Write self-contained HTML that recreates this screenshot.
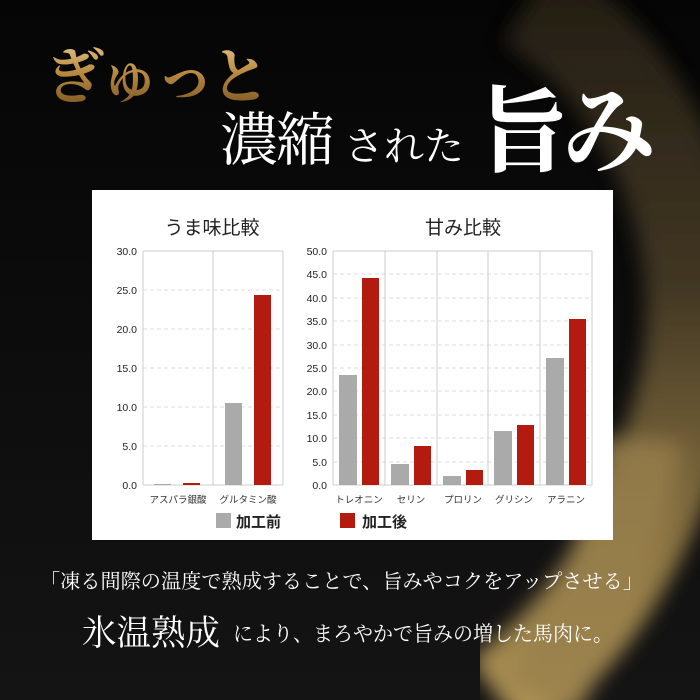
<!DOCTYPE html>
<html><head><meta charset="utf-8"><style>
html,body{margin:0;padding:0;background:#000;}
svg{display:block}
</style></head><body>
<svg width="700" height="700" viewBox="0 0 700 700" xmlns="http://www.w3.org/2000/svg">
<defs>
<linearGradient id="bg" x1="0" y1="0" x2="0" y2="1"><stop offset="0" stop-color="#050505"/><stop offset="1" stop-color="#141414"/></linearGradient>
<linearGradient id="gold" x1="0" y1="0" x2="0" y2="1"><stop offset="0" stop-color="#2a2418"/><stop offset="0.4" stop-color="#4a3e28"/><stop offset="0.75" stop-color="#9a8048"/><stop offset="1" stop-color="#c9a860"/></linearGradient>
<linearGradient id="gtxt" x1="0" y1="0" x2="0" y2="1"><stop offset="0" stop-color="#f3d9a0"/><stop offset="0.5" stop-color="#b8893f"/><stop offset="1" stop-color="#6e4c1c"/></linearGradient>
<filter id="bl"><feGaussianBlur stdDeviation="10"/></filter>
</defs>
<rect width="700" height="700" fill="url(#bg)"/>
<g filter="url(#bl)" opacity="0.85">
<path d="M530 0 C660 80 730 260 680 420 C640 560 580 640 500 700" stroke="url(#gold)" stroke-width="100" fill="none"/>
<path d="M640 440 C630 540 580 630 540 700" stroke="#b09458" stroke-width="80" fill="none" opacity="0.8"/>
</g>
<text x="45" y="98" font-family="'Noto Serif CJK JP','Noto Serif CJK SC',serif" font-size="60" font-weight="bold" fill="url(#gtxt)" letter-spacing="-5">ぎゅっと</text>
<g font-family="'Noto Serif CJK JP','Noto Serif CJK SC',serif" fill="#fff">
<text x="220" y="160" font-size="58" letter-spacing="-2">濃縮</text>
<text x="344" y="160" font-size="40">された</text>
<text x="476" y="164" font-size="94" font-weight="bold" letter-spacing="-8">旨み</text>
</g>
<rect x="92" y="190" width="521" height="350" fill="#fff"/>
<g font-family="'Liberation Sans','Noto Sans CJK JP',sans-serif">
<text x="212" y="234" font-size="19" text-anchor="middle" fill="#222">うま味比較</text>
<text x="463" y="234" font-size="19" text-anchor="middle" fill="#222">甘み比較</text>
<g stroke="#ddd" stroke-dasharray="4,3">
<line x1="143" y1="290" x2="283" y2="290"/><line x1="143" y1="329" x2="283" y2="329"/><line x1="143" y1="368" x2="283" y2="368"/><line x1="143" y1="407" x2="283" y2="407"/><line x1="143" y1="446" x2="283" y2="446"/>
</g>
<g stroke="#ccc"><line x1="143" y1="251" x2="283" y2="251"/><line x1="143" y1="251" x2="143" y2="485"/><line x1="283" y1="251" x2="283" y2="485"/><line x1="213" y1="251" x2="213" y2="485"/><line x1="143" y1="485" x2="283" y2="485"/></g>
<g font-size="10.5" fill="#222" text-anchor="end">
<text x="137" y="255">30.0</text><text x="137" y="294">25.0</text><text x="137" y="333">20.0</text><text x="137" y="372">15.0</text><text x="137" y="411">10.0</text><text x="137" y="450">5.0</text><text x="137" y="489">0.0</text>
</g>
<rect x="154" y="484" width="17" height="1" fill="#aaa"/>
<rect x="183" y="483" width="17" height="2" fill="#b31b10"/>
<rect x="225" y="403" width="17" height="82" fill="#aaa"/>
<rect x="254" y="295" width="17" height="190" fill="#b31b10"/>
<g font-size="9.5" fill="#333" text-anchor="middle"><text x="178" y="503">アスパラ銀酸</text><text x="248" y="503">グルタミン酸</text></g>
<g stroke="#ddd" stroke-dasharray="4,3">
<line x1="333" y1="274" x2="592" y2="274"/><line x1="333" y1="298" x2="592" y2="298"/><line x1="333" y1="321" x2="592" y2="321"/><line x1="333" y1="345" x2="592" y2="345"/><line x1="333" y1="368" x2="592" y2="368"/><line x1="333" y1="391" x2="592" y2="391"/><line x1="333" y1="415" x2="592" y2="415"/><line x1="333" y1="438" x2="592" y2="438"/><line x1="333" y1="462" x2="592" y2="462"/>
</g>
<g stroke="#ccc"><line x1="333" y1="251" x2="592" y2="251"/><line x1="333" y1="251" x2="333" y2="485"/><line x1="592" y1="251" x2="592" y2="485"/><line x1="385" y1="251" x2="385" y2="485"/><line x1="437" y1="251" x2="437" y2="485"/><line x1="488" y1="251" x2="488" y2="485"/><line x1="540" y1="251" x2="540" y2="485"/><line x1="333" y1="485" x2="592" y2="485"/></g>
<g font-size="10.5" fill="#222" text-anchor="end">
<text x="327" y="255">50.0</text><text x="327" y="278">45.0</text><text x="327" y="302">40.0</text><text x="327" y="325">35.0</text><text x="327" y="349">30.0</text><text x="327" y="372">25.0</text><text x="327" y="395">20.0</text><text x="327" y="419">15.0</text><text x="327" y="442">10.0</text><text x="327" y="466">5.0</text><text x="327" y="489">0.0</text>
</g>
<g fill="#aaa">
<rect x="339" y="375" width="18" height="110"/><rect x="391" y="464" width="18" height="21"/><rect x="443" y="476" width="18" height="9"/><rect x="494" y="431" width="18" height="54"/><rect x="546" y="358" width="18" height="127"/>
</g>
<g fill="#b31b10">
<rect x="362" y="278" width="17" height="207"/><rect x="414" y="446" width="17" height="39"/><rect x="466" y="470" width="17" height="15"/><rect x="517" y="425" width="17" height="60"/><rect x="569" y="319" width="17" height="166"/>
</g>
<g font-size="9.5" fill="#333" text-anchor="middle"><text x="359" y="503">トレオニン</text><text x="411" y="503">セリン</text><text x="463" y="503">プロリン</text><text x="514" y="503">グリシン</text><text x="566" y="503">アラニン</text></g>
<rect x="216" y="513" width="15" height="15" fill="#aaa"/><text x="236" y="527" font-size="15" font-weight="bold" fill="#222">加工前</text>
<rect x="340" y="513" width="15" height="15" fill="#b31b10"/><text x="362" y="527" font-size="15" font-weight="bold" fill="#222">加工後</text>
</g>
<g font-family="'Noto Serif CJK JP','Noto Serif CJK SC',serif" fill="#fff">
<text x="40" y="588" font-size="20" textLength="603" lengthAdjust="spacingAndGlyphs">「凍る間際の温度で熟成することで、旨みやコクをアップさせる」</text>
<text x="82" y="645" font-size="35" textLength="138" lengthAdjust="spacingAndGlyphs">氷温熟成</text>
<text x="233" y="641" font-size="21" textLength="380" lengthAdjust="spacingAndGlyphs">により、まろやかで旨みの増した馬肉に。</text>
</g>
</svg>
</body></html>
